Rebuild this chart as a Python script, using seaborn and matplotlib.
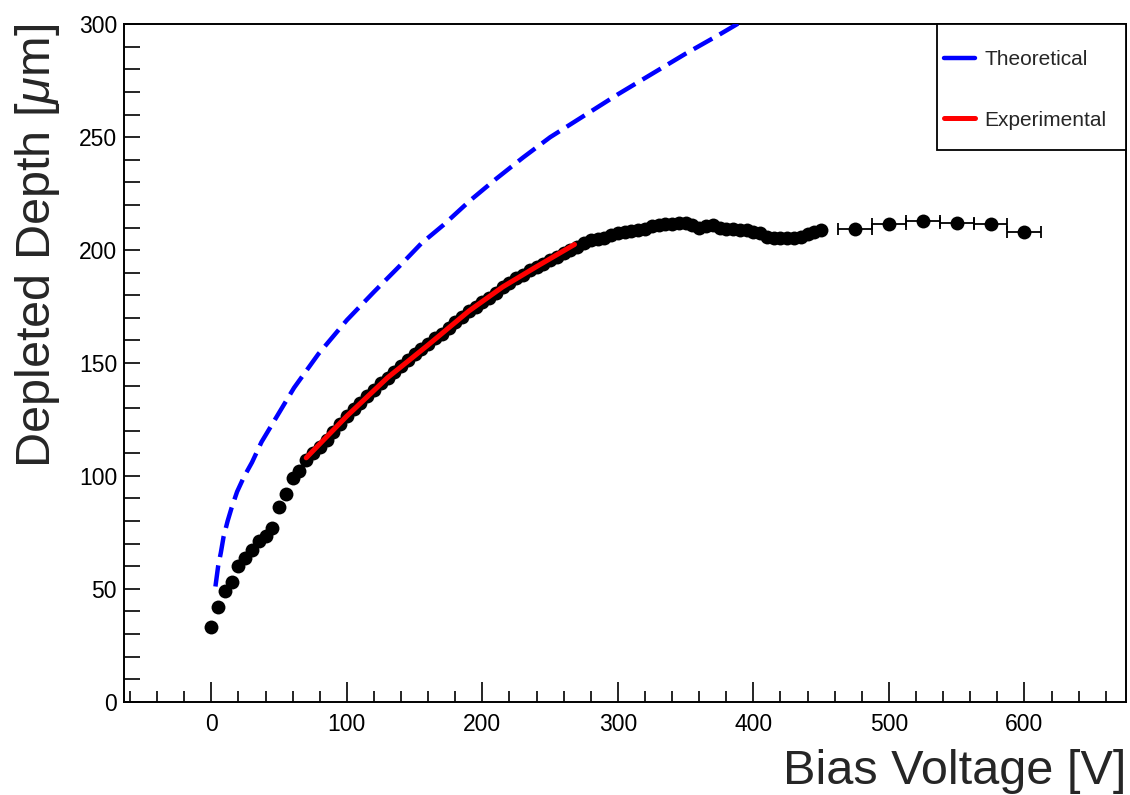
import matplotlib
matplotlib.use("Agg")
import matplotlib.pyplot as plt
import pandas as pd
import seaborn as sns
from matplotlib.lines import Line2D
from matplotlib.patches import Rectangle
from matplotlib.ticker import MultipleLocator

# measured depleted depth, fine scan every 5 V from 0 to 450 V
bias_fine = list(range(0, 455, 5))
depth_fine = [
    33, 42, 49, 53, 60, 63.5, 67, 71, 73.5, 77,
    86, 92, 99, 102, 107, 110, 113, 116, 119.5, 123,
    126.5, 129.5, 132.5, 135.5, 138, 141, 143.5, 146, 148.5, 151.5,
    154, 156, 158.5, 161, 163, 165.5, 168, 170.5, 173, 175,
    177, 179, 181, 183.5, 185.5, 187.5, 189, 191, 192.5, 194,
    195.5, 197, 198.5, 200, 201.5, 203, 204.5, 205, 205.5, 206.5,
    207.5, 208, 208.5, 209, 209.5, 210.5, 211, 211.5, 211.5, 212,
    212, 211, 210, 210.5, 211, 210, 209.5, 209.5, 209, 209,
    208, 207.5, 206, 205.5, 205.5, 205.5, 205.5, 206, 207, 208,
    209,
]

# coarse scan, 25 V steps (+-12.5 V)
bias_coarse = [475, 500, 525, 550, 575, 600]
depth_coarse = [209.5, 211.5, 213, 212, 211.5, 208]
bias_err_coarse = [12.5, 12.5, 12.5, 12.5, 12.5, 12.5]

# theoretical curve
theory_bias = [3, 5, 7, 9, 12, 15, 19, 24, 30, 37, 50, 61, 79, 100, 120,
               139, 155, 171, 191, 210, 230, 250, 275, 300, 325, 350, 375,
               392]
theory_depth = [51, 60, 66, 73, 80, 86, 93, 99.5, 106, 115, 128, 139, 154,
                169, 181.5, 193, 203, 211, 222, 231.5, 241, 250, 259.5,
                269, 278, 287, 295.5, 301.5]

# fit to the data
fit_bias = [70, 100, 130, 160, 190, 215, 240, 268]
fit_depth = [108, 126.5, 143.5, 158, 173, 183.7, 192.7, 202.5]

sns.set_style("ticks")
plt.rcParams["font.family"] = ["Liberation Sans", "DejaVu Sans"]
plt.rcParams["mathtext.fontset"] = "custom"
plt.rcParams["mathtext.rm"] = "Liberation Sans"
plt.rcParams["mathtext.it"] = "Liberation Sans:italic"

fig = plt.figure(figsize=(11.3, 7.95), dpi=100)
ax = fig.add_axes([0.1097, 0.1174, 0.8868, 0.852])

df_fine = pd.DataFrame({"bias": bias_fine, "depth": depth_fine})
df_coarse = pd.DataFrame({"bias": bias_coarse, "depth": depth_coarse})
df_theory = pd.DataFrame({"bias": theory_bias, "depth": theory_depth})
df_fit = pd.DataFrame({"bias": fit_bias, "depth": fit_depth})

ax.errorbar(df_coarse["bias"], df_coarse["depth"], xerr=bias_err_coarse,
            fmt="none", ecolor="black", elinewidth=1.3, capsize=4,
            capthick=1.3, zorder=2)
sns.scatterplot(data=pd.concat([df_fine, df_coarse]), x="bias", y="depth",
                color="black", s=100, linewidth=0, ax=ax, zorder=3)

sns.lineplot(data=df_theory, x="bias", y="depth", color="blue", lw=3.2,
             ax=ax, zorder=4)
ax.lines[-1].set_dashes([4.8, 1.9])
sns.lineplot(data=df_fit, x="bias", y="depth", color="red", lw=3.6,
             ax=ax, zorder=5)

ax.set_xlim(-64.5, 675)
ax.set_ylim(0, 300)
ax.set_xlabel("")
ax.set_ylabel("")

ax.xaxis.set_major_locator(MultipleLocator(100))
ax.xaxis.set_minor_locator(MultipleLocator(20))
ax.yaxis.set_major_locator(MultipleLocator(50))
ax.yaxis.set_minor_locator(MultipleLocator(10))
ax.tick_params(axis="both", which="both", direction="in", top=False,
               right=False, width=1.2, colors="black", labelsize=16.5)
ax.tick_params(axis="x", which="major", length=14.5, pad=8)
ax.tick_params(axis="x", which="minor", length=8)
ax.tick_params(axis="y", which="major", length=11.5, pad=5)
ax.tick_params(axis="y", which="minor", length=11.5)
for sp in ax.spines.values():
    sp.set_visible(True)
    sp.set_color("black")
    sp.set_linewidth(1.4)

fig.text(1126 / 1130, 1 - 772 / 795, "Bias Voltage [V]", ha="right",
         va="center", fontsize=35)
fig.text(38 / 1130, 1 - 24 / 795, r"Depleted Depth [$\mu$m]", rotation=90,
         ha="center", va="top", fontsize=35)

# legend: ROOT-style box drawn separately, entries placed inside it
ax.add_patch(Rectangle((0.8114, 0.8144), 0.1886, 0.1856,
                       transform=ax.transAxes, facecolor="white",
                       edgecolor="black", lw=1.3, zorder=6, clip_on=False))
handles = [Line2D([], [], color="blue", lw=3.2),
           Line2D([], [], color="red", lw=3.6)]
leg = ax.legend(handles, ["Theoretical", "Experimental"], loc="upper left",
                bbox_to_anchor=(0.8184, 0.962), fontsize=15, frameon=False,
                borderpad=0, labelspacing=2.0, handlelength=1.5,
                handletextpad=0.45, borderaxespad=0)
leg.set_zorder(7)

fig.savefig("out.png", dpi=100)
